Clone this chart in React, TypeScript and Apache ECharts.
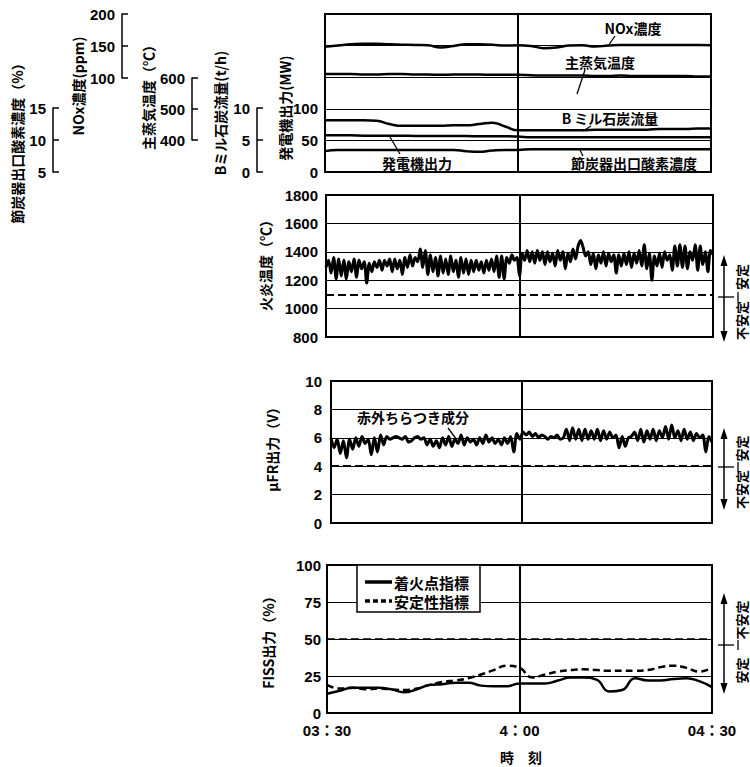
import React, { useEffect, useRef } from "react";
import * as echarts from "echarts";

// ---- data ----
const timeTicks: Record<number, string> = { 0: "03：30", 30: "4：00", 60: "04：30" };

// top panel, one value every 2 minutes
const noxPpm = [148, 150, 152, 153, 153, 152, 151.5, 151, 150.5, 147, 149.5, 152, 152, 151.5, 150, 150.5, 149.5, 146, 147, 150, 150.5, 148.5, 150, 151, 151, 151, 151, 151, 151, 151, 150.5];
const steamTemp = [548, 548, 548, 547, 547, 548, 548, 547, 547, 546, 547, 547, 547, 546, 546, 546, 545, 544, 544, 544, 544, 543, 543, 544, 543, 543, 543, 543, 543, 542, 542];
const coalFlow = [8.2, 8.2, 8.2, 8.2, 8.1, 7.6, 7.3, 7.3, 7.3, 7.3, 7.4, 7.4, 7.6, 7.8, 7.2, 6.6, 6.6, 6.6, 6.6, 6.6, 6.6, 6.7, 6.7, 6.7, 6.7, 6.7, 6.8, 6.8, 6.8, 6.9, 6.9];
const genOutput = [58, 58, 58, 57.5, 57.5, 57.5, 57.5, 57, 57, 57, 57, 57, 56.5, 56.5, 56.5, 56, 55, 55, 55, 55, 55, 55, 55, 55, 55, 55, 55, 55, 55, 55, 55];
const o2Conc = [8.3, 8.5, 8.5, 8.5, 8.5, 8.5, 8.5, 8.5, 8.5, 8.5, 8.5, 8.3, 8.2, 8.4, 8.5, 8.5, 8.6, 8.6, 8.6, 8.6, 8.6, 8.6, 8.6, 8.6, 8.6, 8.6, 8.6, 8.6, 8.6, 8.6, 8.6];

// flame temperature (evenly spaced over the hour)
const flameTemp = [
  1290, 1340, 1250, 1360, 1210, 1350, 1230, 1340, 1210, 1330, 1260, 1350, 1220, 1340, 1280, 1330,
  1180, 1320, 1260, 1330, 1290, 1340, 1270, 1340, 1300, 1350,
  1260, 1350, 1280, 1340, 1240, 1360, 1290, 1380, 1300, 1360, 1330, 1420, 1290, 1410, 1240, 1380,
  1260, 1360, 1230, 1370, 1250, 1350, 1240, 1370, 1260, 1340, 1220, 1360, 1250, 1350, 1240, 1340,
  1260, 1340, 1270, 1330, 1250, 1340, 1270, 1350, 1260, 1370, 1220, 1370, 1210, 1360, 1320, 1380, 1340, 1360,
  1230, 1390, 1340, 1410, 1330, 1400, 1320, 1410, 1340, 1400, 1310, 1400, 1330, 1390, 1300, 1410, 1340, 1400, 1280, 1390,
  1330, 1420, 1350, 1440, 1480, 1430, 1370, 1400, 1310, 1390, 1280, 1380, 1320, 1400, 1300, 1390, 1330, 1380, 1250, 1380,
  1300, 1390, 1310, 1400, 1290, 1390, 1320, 1410, 1300, 1450, 1280, 1390, 1200, 1370, 1300, 1390, 1290, 1400, 1340, 1380,
  1270, 1440, 1300, 1450, 1290, 1440, 1280, 1400, 1340, 1450, 1270, 1440, 1310, 1400, 1260, 1410, 1380,
];

// μFR output (V)
const ufrOutput = [
  6.0, 5.3, 5.9, 4.9, 5.8, 4.6, 5.9, 5.2, 6.0, 5.4, 6.1, 5.6, 5.9, 4.8, 6.0, 5.0, 6.2, 5.5, 6.1, 5.9,
  6.0, 6.1, 6.0, 5.9, 6.1, 5.7, 5.8, 6.0, 6.1, 5.9, 6.0, 5.5, 5.9, 5.4, 5.8, 5.3, 6.0, 5.5, 6.1, 5.4,
  5.9, 5.6, 6.2, 5.5, 6.0, 5.7, 5.9, 5.5, 6.0, 5.6, 6.2, 5.7, 6.0, 5.6, 5.9, 5.5, 6.0, 5.6, 6.1, 5.0,
  6.3, 5.9, 6.4,
  6.2, 6.4, 6.1, 6.3, 6.0, 6.2, 6.1, 5.9, 6.1, 6.0, 6.2, 5.9, 6.0, 6.6, 5.8, 6.7, 5.9, 6.6, 5.8, 6.6,
  5.9, 6.5, 5.9, 6.6, 5.8, 6.5, 5.9, 6.4, 6.0, 6.2, 5.3, 6.1, 5.4, 6.0, 6.1, 6.4, 5.8, 6.6, 5.7, 6.5,
  5.9, 6.6, 5.8, 6.5, 6.0, 6.8, 5.9, 6.9, 6.0, 6.5, 5.8, 6.6, 5.9, 6.4, 5.8, 6.3, 6.0, 6.2, 5.0, 6.1,
  5.7,
];

// FISS output (%), one value every 2 minutes
const ignitionIndex = [13, 15, 17, 17, 17, 16, 14, 16, 19, 19.5, 20.5, 20.5, 18.5, 18, 18, 20, 20, 20, 22, 24, 24, 22.5, 14.5, 15.5, 23.5, 22, 22, 23, 23.5, 21.5, 17.5];
const stabilityIndex = [19, 16.5, 17, 16, 16.5, 16, 15.5, 16.5, 19, 21, 22, 23.5, 26, 29, 32, 30.5, 24, 26, 28, 29, 29.5, 29, 28.5, 28.5, 28.5, 29, 31, 32, 30.5, 28, 30.5];
const legendNames = ["着火点指標", "安定性指標"];

const flameThreshold = 1100;
const ufrThreshold = 4;
const fissThreshold = 50;

const FONT = "'Liberation Sans Narrow', 'Liberation Sans', 'Noto Sans CJK JP', sans-serif";
const JFONT = "'Noto Sans CJK JP', sans-serif";

const toXY = (arr: number[]) => arr.map((v, i) => [(i * 60) / (arr.length - 1), v]);

function buildOption(): any {
  const mainGrids = [
    { left: 325, top: 14, width: 386, height: 158 },
    { left: 326, top: 195, width: 387, height: 142 },
    { left: 331, top: 381, width: 381, height: 142 },
    { left: 327, top: 565, width: 385, height: 148 },
  ];
  const bracketGrids = [
    { left: 122, top: 14, width: 6, height: 64 },
    { left: 192, top: 78, width: 6, height: 62 },
    { left: 257, top: 108, width: 6, height: 64 },
    { left: 53, top: 108, width: 6, height: 64 },
  ];
  const grid = [
    ...mainGrids.map((g) => ({ ...g, show: true, borderColor: "#000", borderWidth: 2, backgroundColor: "#fff" })),
    ...bracketGrids.map((g) => ({ ...g, show: false })),
  ];

  const xAxis: any[] = [0, 1, 2, 3].map((i) => ({
    type: "value",
    gridIndex: i,
    min: 0,
    max: 60,
    interval: 30,
    axisLine: { show: false },
    axisTick: { show: false },
    axisLabel:
      i === 3
        ? { show: true, margin: 10, color: "#000", fontSize: 15, fontWeight: "bold", fontFamily: FONT, formatter: (v: number) => timeTicks[v] ?? "" }
        : { show: false },
    splitLine: { show: true, lineStyle: { color: "#000", width: 2 } },
  }));
  [4, 5, 6, 7].forEach((i) => xAxis.push({ type: "value", gridIndex: i, min: 0, max: 1, show: false }));

  const label = (margin: number, formatter?: any) => ({
    color: "#000",
    fontSize: 15,
    fontWeight: "bold",
    fontFamily: FONT,
    margin,
    formatter: formatter ?? ((v: number) => String(v)),
  });
  const split = { show: true, lineStyle: { color: "#000", width: 1 } };
  const mainY = (gridIndex: number, min: number, max: number, interval: number, margin: number, formatter?: any) => ({
    type: "value",
    gridIndex,
    min,
    max,
    interval,
    axisLine: { show: false },
    axisTick: { show: false },
    axisLabel: label(margin, formatter),
    splitLine: split,
  });
  const hiddenY = (min: number, max: number) => ({ type: "value", gridIndex: 0, min, max, show: false, splitLine: { show: false } });
  const bracketY = (gridIndex: number, min: number, max: number, interval: number) => ({
    type: "value",
    gridIndex,
    min,
    max,
    interval,
    position: "left",
    axisLine: { show: true, lineStyle: { color: "#000", width: 1.5 } },
    axisTick: { show: true, inside: true, length: 6, lineStyle: { color: "#000", width: 1.5 } },
    axisLabel: label(7),
    splitLine: { show: false },
  });

  const yAxis = [
    mainY(0, 0, 250, 50, 7, (v: number) => (v <= 100 ? String(v) : "")), // 0 generator output
    hiddenY(-50, 200), // 1 NOx
    hiddenY(300, 700), // 2 steam temp
    hiddenY(0, 25), // 3 coal flow
    hiddenY(5, 30), // 4 O2
    mainY(1, 800, 1800, 200, 8), // 5 flame
    mainY(2, 0, 10, 2, 9), // 6 uFR
    mainY(3, 0, 100, 25, 6), // 7 FISS
    bracketY(4, 100, 200, 50), // 8
    bracketY(5, 400, 600, 100), // 9
    bracketY(6, 0, 10, 5), // 10
    bracketY(7, 5, 15, 5), // 11
  ];

  const line = (name: string, data: number[], xi: number, yi: number, extra: any = {}) => ({
    name,
    type: "line",
    xAxisIndex: xi,
    yAxisIndex: yi,
    data: toXY(data),
    symbol: "none",
    smooth: 0.3,
    lineStyle: { color: "#000", width: 2.5 },
    itemStyle: { color: "#000" },
    silent: true,
    ...extra,
  });
  const threshold = (v: number, width = 2) => ({
    silent: true,
    symbol: "none",
    label: { show: false },
    lineStyle: { color: "#000", type: [8, 4], width },
    data: [{ yAxis: v }],
  });

  const series = [
    line("NOx濃度", noxPpm, 0, 1, { smooth: true }),
    line("主蒸気温度", steamTemp, 0, 2, { smooth: true }),
    line("Bミル石炭流量", coalFlow, 0, 3, { smooth: true }),
    line("発電機出力", genOutput, 0, 0, { smooth: true }),
    line("節炭器出口酸素濃度", o2Conc, 0, 4, { smooth: true }),
    line("火炎温度", flameTemp, 1, 5, { lineStyle: { color: "#000", width: 3 }, markLine: threshold(flameThreshold) }),
    line("赤外ちらつき成分", ufrOutput, 2, 6, { lineStyle: { color: "#000", width: 3 }, markLine: threshold(ufrThreshold) }),
    line(legendNames[0], ignitionIndex, 3, 7, { smooth: true, markLine: threshold(fissThreshold, 1.5) }),
    line(legendNames[1], stabilityIndex, 3, 7, { smooth: true, lineStyle: { color: "#000", width: 2.5, type: [7, 4] } }),
  ];

  const txt = (text: string, x: number, y: number, size = 14, rot = 0, align = "center") => ({
    type: "text",
    x,
    y,
    rotation: rot,
    z: 100,
    style: { text, fill: "#000", font: `bold ${size}px ${JFONT}`, align, verticalAlign: "middle" },
  });
  const seg = (x1: number, y1: number, x2: number, y2: number, w = 1.3, dash?: number[]) => ({
    type: "line",
    z: 100,
    shape: { x1, y1, x2, y2 },
    style: { stroke: "#000", lineWidth: w, ...(dash ? { lineDash: dash } : {}) },
  });
  const tri = (pts: number[][]) => ({ type: "polygon", z: 100, shape: { points: pts }, style: { fill: "#000" } });
  const R = Math.PI / 2;
  const stabMark = (top: number, bottom: number, mid: number, upper: string, lower: string) => {
    const ax = 724;
    return [
      seg(ax, top + 6, ax, bottom - 6, 1.5),
      tri([[ax, top], [ax - 3.5, top + 11], [ax + 3.5, top + 11]]),
      tri([[ax, bottom], [ax - 3.5, bottom - 11], [ax + 3.5, bottom - 11]]),
      seg(718, mid, 734, mid, 1.3),
      seg(738, mid - 5, 738, mid + 5, 1.3),
      txt(upper, 741, (top + mid) / 2 + 1, 13, R),
      txt(lower, 741, (mid + bottom) / 2 + 1, 13, R),
    ];
  };

  const graphic = [
    // axis titles
    txt("節炭器出口酸素濃度（%）", 17, 140, 14, R),
    txt("NOx濃度(ppm)", 78, 86, 14, R),
    txt("主蒸気温度（℃）", 148, 94, 14, R),
    txt("Bミル石炭流量(t/h)", 220, 113, 14, R),
    txt("発電機出力(MW)", 285, 108, 14, R),
    txt("火炎温度（℃）", 265, 262, 14, R),
    txt("μFR出力（V）", 272, 446, 14, R),
    txt("FISS出力（%）", 268, 639, 14, R),
    txt("時　刻", 521, 757, 14),
    // top panel annotations
    txt("NOx濃度", 633, 28, 14),
    seg(615, 36, 608, 46),
    txt("主蒸気温度", 600, 62, 14),
    seg(585, 70, 577, 94),
    txt("B ミル石炭流量", 610, 118, 14),
    seg(591, 126, 583, 131),
    txt("発電機出力", 417, 163, 14),
    seg(400, 154, 390, 137),
    txt("節炭器出口酸素濃度", 634, 163, 14),
    seg(583, 156, 580, 150),
    // μFR annotation
    txt("赤外ちらつき成分", 413, 417, 14),
    seg(448, 428, 457, 440),
    // FISS legend
    {
      type: "rect",
      z: 110,
      shape: { x: 357, y: 565, width: 123, height: 47 },
      style: { fill: "#fff", stroke: "#000", lineWidth: 1.5 },
    },
    { ...seg(365, 582, 392, 582, 3.5), z: 111 },
    { ...seg(365, 601, 392, 601, 3.5, [5, 3]), z: 111 },
    { ...txt(legendNames[0], 394, 582, 15, 0, "left"), z: 111 },
    { ...txt(legendNames[1], 394, 601, 15, 0, "left"), z: 111 },
    // stability marks
    ...stabMark(255, 342, 297, "安定", "不安定"),
    ...stabMark(428, 510, 467, "安定", "不安定"),
    ...stabMark(593, 694, 645, "不安定", "安定"),
  ];

  return {
    animation: false,
    backgroundColor: "#fff",
    grid,
    xAxis,
    yAxis,
    series,
    graphic,
  };
}

export default function App() {
  const ref = useRef<HTMLDivElement>(null);
  useEffect(() => {
    if (!ref.current) return;
    const chart = echarts.init(ref.current, undefined, { renderer: "svg" });
    chart.setOption(buildOption());
    return () => chart.dispose();
  }, []);
  return <div ref={ref} style={{ position: "absolute", left: 0, top: 0, width: 750, height: 767 }} />;
}
